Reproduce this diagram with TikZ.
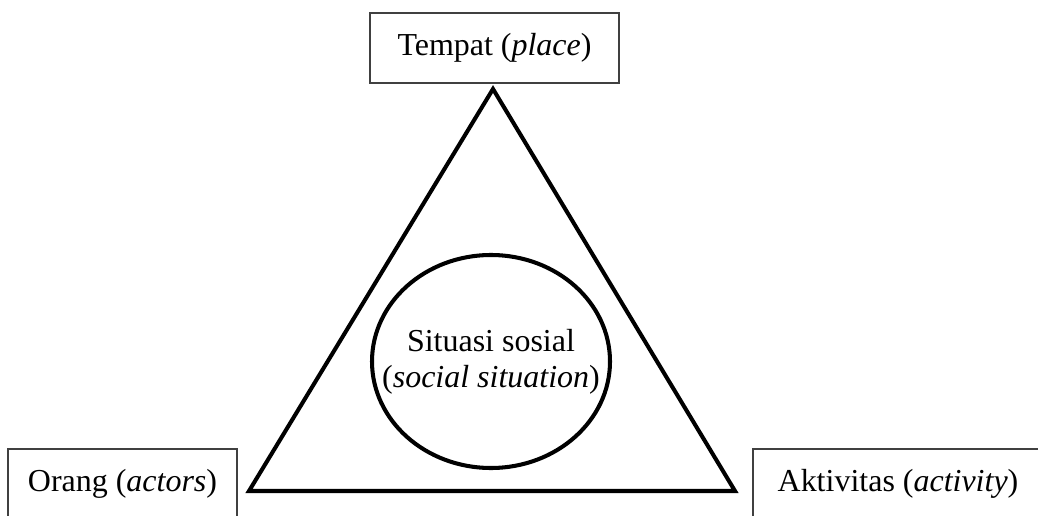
\documentclass[tikz,border=0pt]{standalone}
\usepackage{fontspec}
\setmainfont{Liberation Serif}
\usetikzlibrary{shapes.geometric}

\begin{document}
\begin{tikzpicture}[font=\fontsize{18.2}{20.5}\selectfont,
    labelbox/.style={draw=black!75, line width=0.6pt, minimum height=1.4cm, inner sep=0pt}]
            \clip (0,0) rectangle (20.76,10.3);

            % three corners of the triangle
            \coordinate (top) at (9.86,8.52);
            \coordinate (left) at (4.98,0.48);
            \coordinate (right) at (14.70,0.48);
            \draw[line width=2.3pt] (top) -- (left) -- (right) -- cycle;

            \node[draw, ellipse, line width=2.3pt, inner sep=0pt, minimum width=4.76cm, minimum height=4.26cm] (situasi) at (9.82,3.07) {};
            \node[align=center, inner sep=0pt] (situasitext) at (situasi.center) {Situasi sosial\\(\textit{social situation})};

            \node[labelbox, minimum width=4.98cm] (tempat) at (9.89,9.34) {Tempat (\textit{place})};
            \node[labelbox, minimum width=4.58cm] (orang) at (2.45,0.62) {Orang (\textit{actors})};
            \node[labelbox, minimum width=5.80cm] (aktivitas) at (17.96,0.62) {Aktivitas (\textit{activity})};
        \end{tikzpicture}
\end{document}
